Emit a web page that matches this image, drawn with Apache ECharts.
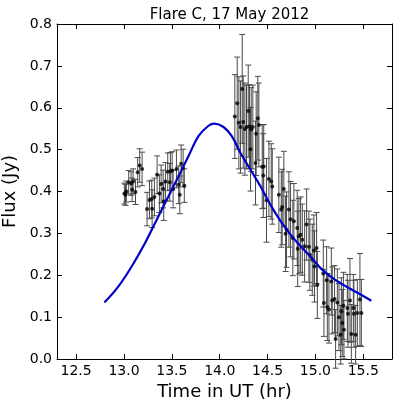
<!DOCTYPE html>
<html><head><meta charset="utf-8">
<script src="https://cdn.jsdelivr.net/npm/echarts@6/dist/echarts.min.js"></script>
<style>html,body{margin:0;padding:0;background:#fff}#c{width:398px;height:408px}</style>
</head><body><div id="c"></div>
<script>
const chartTitle = "Flare C, 17 May 2012";
const xTicks = [12.5, 13.0, 13.5, 14.0, 14.5, 15.0, 15.5];
const yTicks = [0.0, 0.1, 0.2, 0.3, 0.4, 0.5, 0.6, 0.7, 0.8];

const timeHr = [
 13.004,13.015,13.025,13.049,13.074,13.085,13.095,13.120,13.143,13.164,13.189,
 13.241,13.266,13.290,13.294,13.318,13.346,13.370,13.388,13.409,13.415,13.433,13.457,13.478,13.485,13.503,13.513,13.548,13.572,13.583,13.597,13.618,13.630,
 14.158,14.183,14.200,14.217,14.235,14.246,14.263,14.280,14.298,14.311,14.322,14.329,14.346,14.374,14.381,14.398,14.409,14.444,14.455,14.460,14.489,14.514,14.538,14.549,
 14.618,14.643,14.653,14.670,14.688,14.698,14.723,14.740,14.764,14.775,14.810,14.815,14.827,14.845,14.863,14.887,14.908,14.932,14.942,14.967,14.984,14.990,15.012,
 15.020,15.082,15.089,15.117,15.124,15.141,15.166,15.176,15.200,15.211,15.229,15.246,15.264,15.271,15.281,15.292,15.298,15.333,15.340,15.361,15.375,15.396,15.402,15.420,15.438,15.465,15.480
];
const fluxJy = [
 0.395,0.392,0.400,0.422,0.419,0.404,0.424,0.399,0.446,0.462,0.454,
 0.358,0.380,0.382,0.359,0.387,0.440,0.395,0.418,0.406,0.376,0.424,0.447,0.422,0.448,0.450,0.406,0.454,0.416,0.392,0.466,0.456,0.414,
 0.579,0.611,0.564,0.554,0.645,0.566,0.549,0.554,0.592,0.555,0.501,0.548,0.554,0.468,0.538,0.575,0.559,0.459,0.438,0.460,0.379,0.430,0.424,0.412,
 0.392,0.357,0.363,0.406,0.299,0.309,0.357,0.334,0.289,0.329,0.313,0.263,0.293,0.297,0.285,0.269,0.321,0.268,0.249,0.237,0.259,0.221,0.265,
 0.177,0.204,0.134,0.188,0.124,0.118,0.185,0.140,0.143,0.048,0.135,0.100,0.058,0.114,0.086,0.127,0.070,0.122,0.108,0.140,0.060,0.122,0.108,0.058,0.110,0.142,0.110
];
const fluxErr = [
 0.025,0.025,0.025,0.028,0.028,0.028,0.030,0.030,0.035,0.040,0.040,
 0.040,0.045,0.045,0.045,0.045,0.045,0.045,0.045,0.045,0.045,0.045,0.045,0.045,0.045,0.045,0.045,0.045,0.045,0.045,0.045,0.045,0.040,
 0.100,0.110,0.110,0.110,0.130,0.110,0.110,0.100,0.110,0.100,0.100,0.100,0.100,0.100,0.100,0.100,0.100,0.100,0.100,0.100,0.100,0.090,0.090,0.090,
 0.090,0.090,0.090,0.090,0.090,0.090,0.090,0.090,0.090,0.090,0.090,0.090,0.090,0.090,0.085,0.085,0.085,0.085,0.085,0.085,0.085,0.085,0.085,
 0.080,0.080,0.080,0.080,0.080,0.080,0.080,0.080,0.080,0.070,0.080,0.080,0.070,0.080,0.080,0.080,0.070,0.080,0.080,0.100,0.070,0.080,0.080,0.070,0.080,0.110,0.080
];

const modelTime = [12.795,12.94,13.08,13.22,13.36,13.464,13.569,13.673,13.778,13.883,13.945,14.04,14.126,14.217,14.322,14.427,14.531,14.636,14.74,14.845,14.95,15.054,15.159,15.263,15.368,15.472,15.584];
const modelFlux = [0.135,0.173,0.221,0.277,0.341,0.388,0.436,0.484,0.532,0.557,0.562,0.554,0.532,0.492,0.452,0.412,0.368,0.329,0.297,0.269,0.244,0.217,0.197,0.181,0.167,0.154,0.139];

const FONT = "DejaVu Sans";
const points = timeHr.map((t, i) => [t, fluxJy[i]]);
const bars = timeHr.map((t, i) => [t, fluxJy[i] - fluxErr[i], fluxJy[i] + fluxErr[i]]);
const model = modelTime.map((t, i) => [t, modelFlux[i]]);

const chart = echarts.init(document.getElementById('c'), null, {renderer: 'canvas'});
const frame = {show: true, onZero: false, lineStyle: {color: '#000', width: 1}};
const tickIn = {show: true, inside: true, length: 5, lineStyle: {color: '#000', width: 1}};
chart.setOption({
  animation: false,
  backgroundColor: '#fff',
  title: {
    text: chartTitle, left: 224.5, top: 3, textAlign: 'center',
    textStyle: {fontFamily: FONT, fontSize: 15, fontWeight: 'normal', color: '#000'}
  },
  grid: {left: 57, top: 24, width: 335, height: 335, containLabel: false, outerBoundsMode: 'none'},
  xAxis: [{
    type: 'value', min: 12.3, max: 15.8, position: 'bottom',
    axisLine: frame,
    axisTick: Object.assign({customValues: xTicks}, tickIn),
    axisLabel: {customValues: xTicks, formatter: v => v.toFixed(1), fontFamily: FONT, fontSize: 14, color: '#000', margin: 5},
    splitLine: {show: false},
    name: 'Time in UT (hr)', nameLocation: 'middle', nameGap: 23,
    nameTextStyle: {fontFamily: FONT, fontSize: 18, color: '#000'}
  }, {
    type: 'value', min: 12.3, max: 15.8, position: 'top',
    axisLine: frame,
    axisTick: Object.assign({customValues: xTicks}, tickIn),
    axisLabel: {show: false}, splitLine: {show: false}
  }],
  yAxis: [{
    type: 'value', min: 0, max: 0.8, interval: 0.1, position: 'left',
    axisLine: frame, axisTick: tickIn,
    axisLabel: {formatter: v => v.toFixed(1), fontFamily: FONT, fontSize: 14, color: '#000', margin: 5},
    splitLine: {show: false},
    name: 'Flux (Jy)', nameLocation: 'middle', nameGap: 32,
    nameTextStyle: {fontFamily: FONT, fontSize: 18, color: '#000'}
  }, {
    type: 'value', min: 0, max: 0.8, interval: 0.1, position: 'right',
    axisLine: frame, axisTick: tickIn,
    axisLabel: {show: false}, splitLine: {show: false}
  }],
  series: [{
    type: 'custom', name: 'err', data: bars, z: 2,
    encode: {x: 0, y: [1, 2]},
    renderItem: function (params, api) {
      const x = api.value(0);
      const lo = api.coord([x, api.value(1)]);
      const hi = api.coord([x, api.value(2)]);
      const c = 3;
      const st = {stroke: '#4a4a4a', lineWidth: 1};
      return {type: 'group', children: [
        {type: 'line', shape: {x1: lo[0], y1: lo[1], x2: hi[0], y2: hi[1]}, style: st},
        {type: 'line', shape: {x1: lo[0] - c, y1: lo[1], x2: lo[0] + c, y2: lo[1]}, style: st},
        {type: 'line', shape: {x1: hi[0] - c, y1: hi[1], x2: hi[0] + c, y2: hi[1]}, style: st}
      ]};
    }
  }, {
    type: 'scatter', name: 'flux', data: points, z: 3,
    symbol: 'circle', symbolSize: 4, itemStyle: {color: '#000'}
  }, {
    type: 'line', name: 'model', data: model, z: 4, smooth: 0.4,
    showSymbol: false, symbol: 'none',
    lineStyle: {color: '#0000cc', width: 2.2}
  }]
});
</script>
</body></html>
